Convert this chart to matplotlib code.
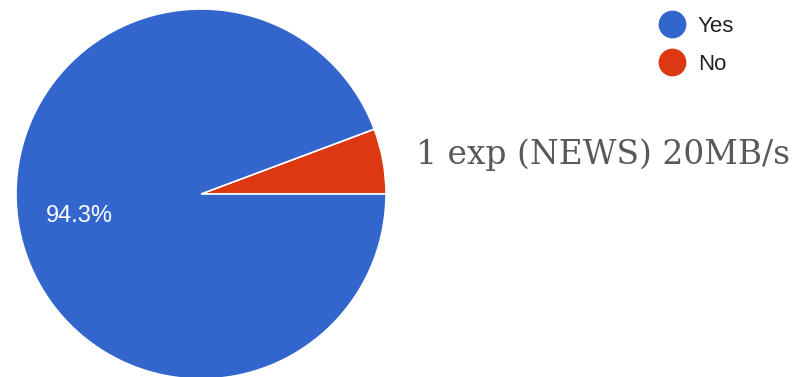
import matplotlib.pyplot as plt
from matplotlib.lines import Line2D

labels = ['No', 'Yes']
values = [5.7, 94.3]
colors = ['#dc3912', '#3366cc']
note = '1 exp (NEWS) 20MB/s'

fig = plt.figure(figsize=(7.99, 3.77), dpi=100)
ax = fig.add_axes([16 / 799, -2 / 377, 370 / 799, 370 / 377])


def pct(p):
    return '{:.1f}%'.format(p) if p > 10 else ''


wedges, texts, autotexts = ax.pie(values, colors=colors, startangle=0,
                                  counterclock=True, autopct=pct,
                                  pctdistance=0.67,
                                  wedgeprops={'edgecolor': 'white', 'linewidth': 1.2},
                                  textprops={'color': 'white', 'fontsize': 17,
                                             'family': 'Liberation Sans'})
ax.set_xlim(-1, 1)
ax.set_ylim(-1, 1)
ax.set_aspect('equal')

handles = [Line2D([], [], marker='o', linestyle='', markersize=19,
                  markerfacecolor=colors[1], markeredgecolor=colors[1]),
           Line2D([], [], marker='o', linestyle='', markersize=19,
                  markerfacecolor=colors[0], markeredgecolor=colors[0])]
fig.legend(handles, ['Yes', 'No'], loc='upper left',
           bbox_to_anchor=(630 / 799, 1 + 4 / 377), frameon=False,
           prop={'family': 'Liberation Sans', 'size': 16},
           handletextpad=0.15, labelspacing=0.75, labelcolor='#222222')

fig.text(416 / 799, 1 - 155 / 377, note, family='DejaVu Serif', fontsize=23.7,
         color='#595959', va='center', ha='left')

fig.savefig('out.png', dpi=100)
